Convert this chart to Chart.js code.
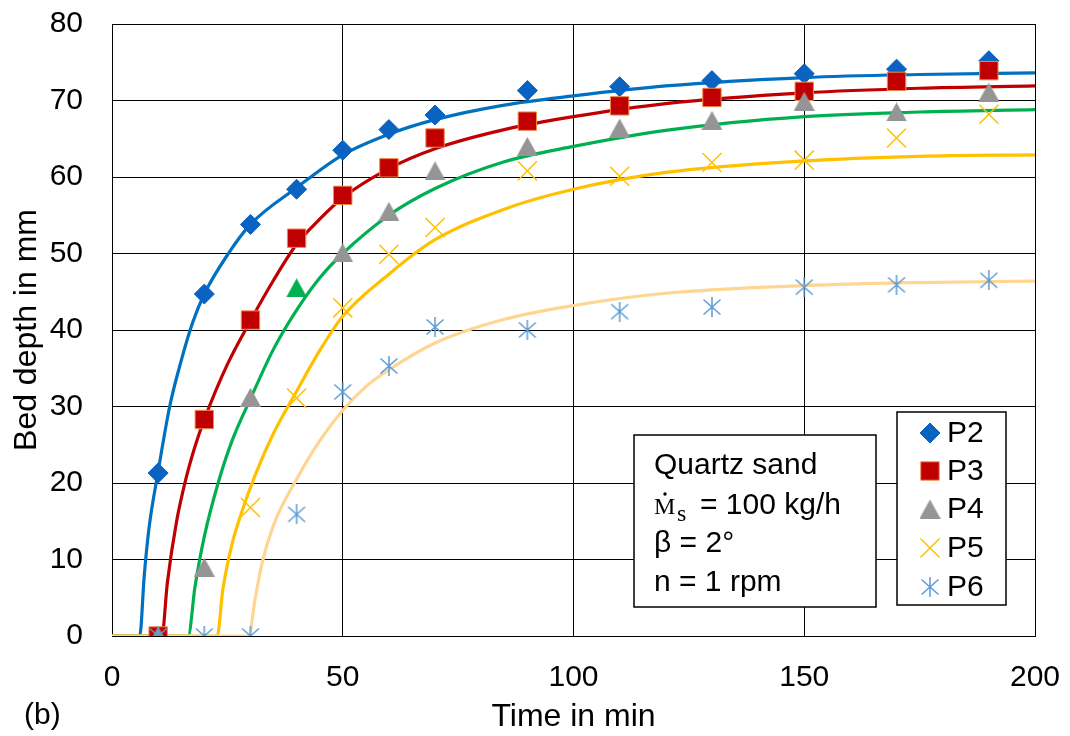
<!DOCTYPE html>
<html>
<head>
<meta charset="utf-8">
<script src="https://cdn.jsdelivr.net/npm/chart.js@4"></script>
<style>
  body { margin: 0; background: #fff; }
  canvas { display: block; }
</style>
</head>
<body>
<canvas id="chart" width="1070" height="736"></canvas>
<script>
// measured points (time in min, bed depth in mm)
const times = [10, 20, 30, 40, 50, 60, 70, 90, 110, 130, 150, 170, 190];
const p2Vals = [21.3, 44.7, 53.8, 58.4, 63.5, 66.2, 68.1, 71.3, 71.8, 72.6, 73.5, 74.1, 75.2];
const p3Vals = [0, 28.3, 41.3, 52.0, 57.6, 61.2, 65.1, 67.3, 69.3, 70.4, 71.2, 72.5, 73.9];
const p4Vals = [0, 9.0, 31.2, 45.5, 50.1, 55.5, 60.8, 64.0, 66.4, 67.4, 69.9, 68.5, 71.1];
const p5Vals = [null, null, 16.8, 31.1, 42.9, 49.9, 53.4, 60.8, 60.1, 61.9, 62.2, 65.1, 68.2];
const p6Vals = [0, 0, 0, 15.9, 31.9, 35.3, 40.4, 40.0, 42.4, 43.0, 45.6, 45.9, 46.5];

// fitted curves
const p2CurveT = [0, 6, 7, 8, 10, 12.5, 15, 17.5, 20, 25, 30, 40, 50, 60, 70, 85, 100, 120, 150, 175, 200];
const p2CurveY = [0, 0, 8, 14, 21.5, 30, 36, 41, 44.7, 49.8, 53.8, 58.6, 62.9, 65.6, 67.5, 69.4, 70.6, 71.9, 73.0, 73.4, 73.6];
const p3CurveT = [0, 10.8, 12, 14, 16, 18, 20, 25, 30, 35, 40, 45, 50, 60, 70, 85, 100, 120, 150, 175, 200];
const p3CurveY = [0, 0, 7, 15, 20.5, 24.8, 28.3, 35.5, 41.2, 46.5, 51.2, 54.5, 57.3, 61.1, 63.7, 66.2, 67.9, 69.6, 71.0, 71.6, 71.9];
const p4CurveT = [0, 16.5, 18, 20, 23, 26, 30, 35, 40, 45, 50, 60, 70, 85, 100, 120, 150, 175, 200];
const p4CurveY = [0, 0, 6.5, 13, 20, 25.5, 31, 37.5, 42.6, 46.8, 50, 55, 58.5, 62, 64, 66.1, 67.9, 68.5, 68.8];
const p5CurveT = [0, 22.8, 24, 26, 28, 31, 35, 40, 45, 50, 60, 70, 85, 100, 120, 150, 175, 200];
const p5CurveY = [0, 0, 6, 12, 16, 21, 26.5, 32, 37.3, 41.8, 47.3, 51.8, 55.8, 58.4, 60.6, 62.1, 62.7, 62.9];
const p6CurveT = [0, 29.6, 31, 32.5, 35, 40, 45, 50, 55, 60, 70, 85, 100, 120, 150, 175, 200];
const p6CurveY = [0, 0, 4.8, 9.5, 14.5, 20.5, 25.5, 29.5, 32.6, 34.8, 38.3, 41.4, 43.2, 44.8, 45.8, 46.2, 46.4];

const xTicks = [0, 50, 100, 150, 200];
const yTicks = [0, 10, 20, 30, 40, 50, 60, 70, 80];
const seriesNames = ['P2', 'P3', 'P4', 'P5', 'P6'];
const infoLines = ['Quartz sand', '= 100 kg/h', 'β = 2°', 'n = 1 rpm'];

const FONT = "'Liberation Sans', Arial, sans-serif";
const SERIF = "'Liberation Serif', 'Times New Roman', serif";

function toXY(xs, ys) {
    return xs.map((x, i) => ({ x: x, y: ys[i] }));
}

// marker images Chart.js has no built-in shape for
function triangleImg(color) {
    const c = document.createElement('canvas');
    c.width = 21; c.height = 19;
    const g = c.getContext('2d');
    g.fillStyle = color;
    g.beginPath();
    g.moveTo(10.5, 0); g.lineTo(21, 19); g.lineTo(0, 19);
    g.closePath();
    g.fill();
    return c;
}
function asteriskImg(color) {
    const c = document.createElement('canvas');
    c.width = 20; c.height = 20;
    const g = c.getContext('2d');
    g.strokeStyle = color;
    g.lineWidth = 1.5;
    g.beginPath();
    g.moveTo(10, 0); g.lineTo(10, 20);
    g.moveTo(1.5, 2.5); g.lineTo(18.5, 17.5);
    g.moveTo(18.5, 2.5); g.lineTo(1.5, 17.5);
    g.stroke();
    return c;
}
const triGrey = triangleImg('#959595');
const triGreen = triangleImg('#00B050');
const star = asteriskImg('#5B9BD5');

const markerStyles = [
    { pointStyle: 'rectRot', radius: 10, bg: '#0A63C0', border: '#0A63C0', bw: 1 },
    { pointStyle: 'rect', radius: 13, bg: '#C00000', border: '#EE8A4A', bw: 1 },
    { pointStyle: triGrey, radius: 10, bg: '#959595', border: '#959595', bw: 0 },
    { pointStyle: 'crossRot', radius: 13.5, bg: '#FFC000', border: '#FFC000', bw: 1.5 },
    { pointStyle: star, radius: 10, bg: '#5B9BD5', border: '#5B9BD5', bw: 0 }
];
const curveColors = ['#0070C0', '#C00000', '#00B050', '#FFC000', '#FFD592'];

const markerData = [p2Vals, p3Vals, p4Vals, p5Vals, p6Vals];
const curveData = [
    [p2CurveT, p2CurveY], [p3CurveT, p3CurveY], [p4CurveT, p4CurveY],
    [p5CurveT, p5CurveY], [p6CurveT, p6CurveY]
];

const datasets = [];
markerData.forEach((vals, i) => {
    const m = markerStyles[i];
    let style = m.pointStyle;
    if (i === 2) {
        // the P4 point at 40 min is green in the original
        style = times.map(t => (t === 40 ? triGreen : triGrey));
    }
    datasets.push({
        label: seriesNames[i],
        data: toXY(times, vals),
        showLine: false,
        pointStyle: style,
        pointRadius: m.radius,
        pointBackgroundColor: m.bg,
        pointBorderColor: m.border,
        pointBorderWidth: m.bw,
        order: 4 - i
    });
});
curveData.forEach((c, i) => {
    datasets.push({
        label: seriesNames[i] + ' fit',
        data: toXY(c[0], c[1]),
        showLine: true,
        borderColor: curveColors[i],
        borderWidth: 3.2,
        pointRadius: 0,
        cubicInterpolationMode: 'monotone',
        order: 14 - i
    });
});

// legend box, info box and the "(b)" label
const overlays = {
    id: 'overlays',
    afterDatasetsDraw(chart) {
        const ctx = chart.ctx;
        ctx.save();

        // info box
        ctx.fillStyle = '#fff';
        ctx.strokeStyle = '#000';
        ctx.lineWidth = 1.5;
        ctx.fillRect(634, 435, 242, 172);
        ctx.strokeRect(634, 435, 242, 172);
        ctx.fillStyle = '#000';
        ctx.textBaseline = 'alphabetic';
        ctx.textAlign = 'left';
        ctx.font = '30px ' + FONT;
        ctx.fillText(infoLines[0], 654, 474);
        // M-dot with subscript s
        ctx.font = '24px ' + SERIF;
        ctx.fillText('M', 654, 514);
        ctx.beginPath();
        ctx.arc(665, 494, 1.7, 0, Math.PI * 2);
        ctx.fill();
        ctx.font = '24px ' + SERIF;
        ctx.fillText('s', 677, 521);
        ctx.font = '30px ' + FONT;
        ctx.fillText(infoLines[1], 700, 514);
        ctx.fillText(infoLines[2], 654, 552);
        ctx.fillText(infoLines[3], 654, 591);

        // legend
        ctx.fillStyle = '#fff';
        ctx.fillRect(897, 412, 109, 193);
        ctx.strokeRect(897, 412, 109, 193);
        const rowY = [433, 471, 509, 548, 587];
        seriesNames.forEach((name, i) => {
            const m = markerStyles[i];
            ctx.fillStyle = m.bg;
            ctx.strokeStyle = m.border;
            ctx.lineWidth = m.bw;
            Chart.helpers.drawPoint(ctx, {
                pointStyle: m.pointStyle, radius: m.radius,
                borderWidth: m.bw, rotation: 0
            }, 930, rowY[i]);
            ctx.fillStyle = '#000';
            ctx.font = '30px ' + FONT;
            ctx.textBaseline = 'middle';
            ctx.fillText(name, 947, rowY[i] + 1);
        });

        ctx.textBaseline = 'alphabetic';
        ctx.fillText('(b)', 24, 724);
        ctx.restore();
    }
};

new Chart(document.getElementById('chart'), {
    type: 'scatter',
    data: { datasets: datasets },
    options: {
        responsive: false,
        animation: false,
        events: [],
        layout: { padding: { top: 24, right: 35, left: 0, bottom: 0 } },
        plugins: {
            legend: { display: false },
            tooltip: { enabled: false }
        },
        scales: {
            x: {
                type: 'linear',
                min: 0,
                max: 200,
                afterBuildTicks: s => { s.ticks = xTicks.map(v => ({ value: v })); },
                afterFit: s => {
                    s.height = 100;
                    s.paddingLeft = 0;
                    s.paddingRight = 0;
                },
                ticks: { padding: 24, color: '#000', font: { size: 30, family: FONT } },
                grid: { color: '#000', lineWidth: 1, drawTicks: false },
                border: { color: '#000', width: 1 },
                title: {
                    display: true, text: 'Time in min', color: '#000',
                    font: { size: 32, family: FONT }, padding: { top: 0, bottom: 0 }
                }
            },
            y: {
                type: 'linear',
                min: 0,
                max: 80,
                afterBuildTicks: s => { s.ticks = yTicks.map(v => ({ value: v })); },
                afterFit: s => {
                    s.width = 112;
                    s.paddingTop = 0;
                    s.paddingBottom = 0;
                },
                ticks: { padding: 29, color: '#000', font: { size: 30, family: FONT } },
                grid: { color: '#000', lineWidth: 1, drawTicks: false },
                border: { color: '#000', width: 1 },
                title: {
                    display: true, text: 'Bed depth in mm', color: '#000',
                    font: { size: 32, family: FONT }, padding: { top: 8, bottom: 0 }
                }
            }
        }
    },
    plugins: [overlays]
});
</script>
</body>
</html>
